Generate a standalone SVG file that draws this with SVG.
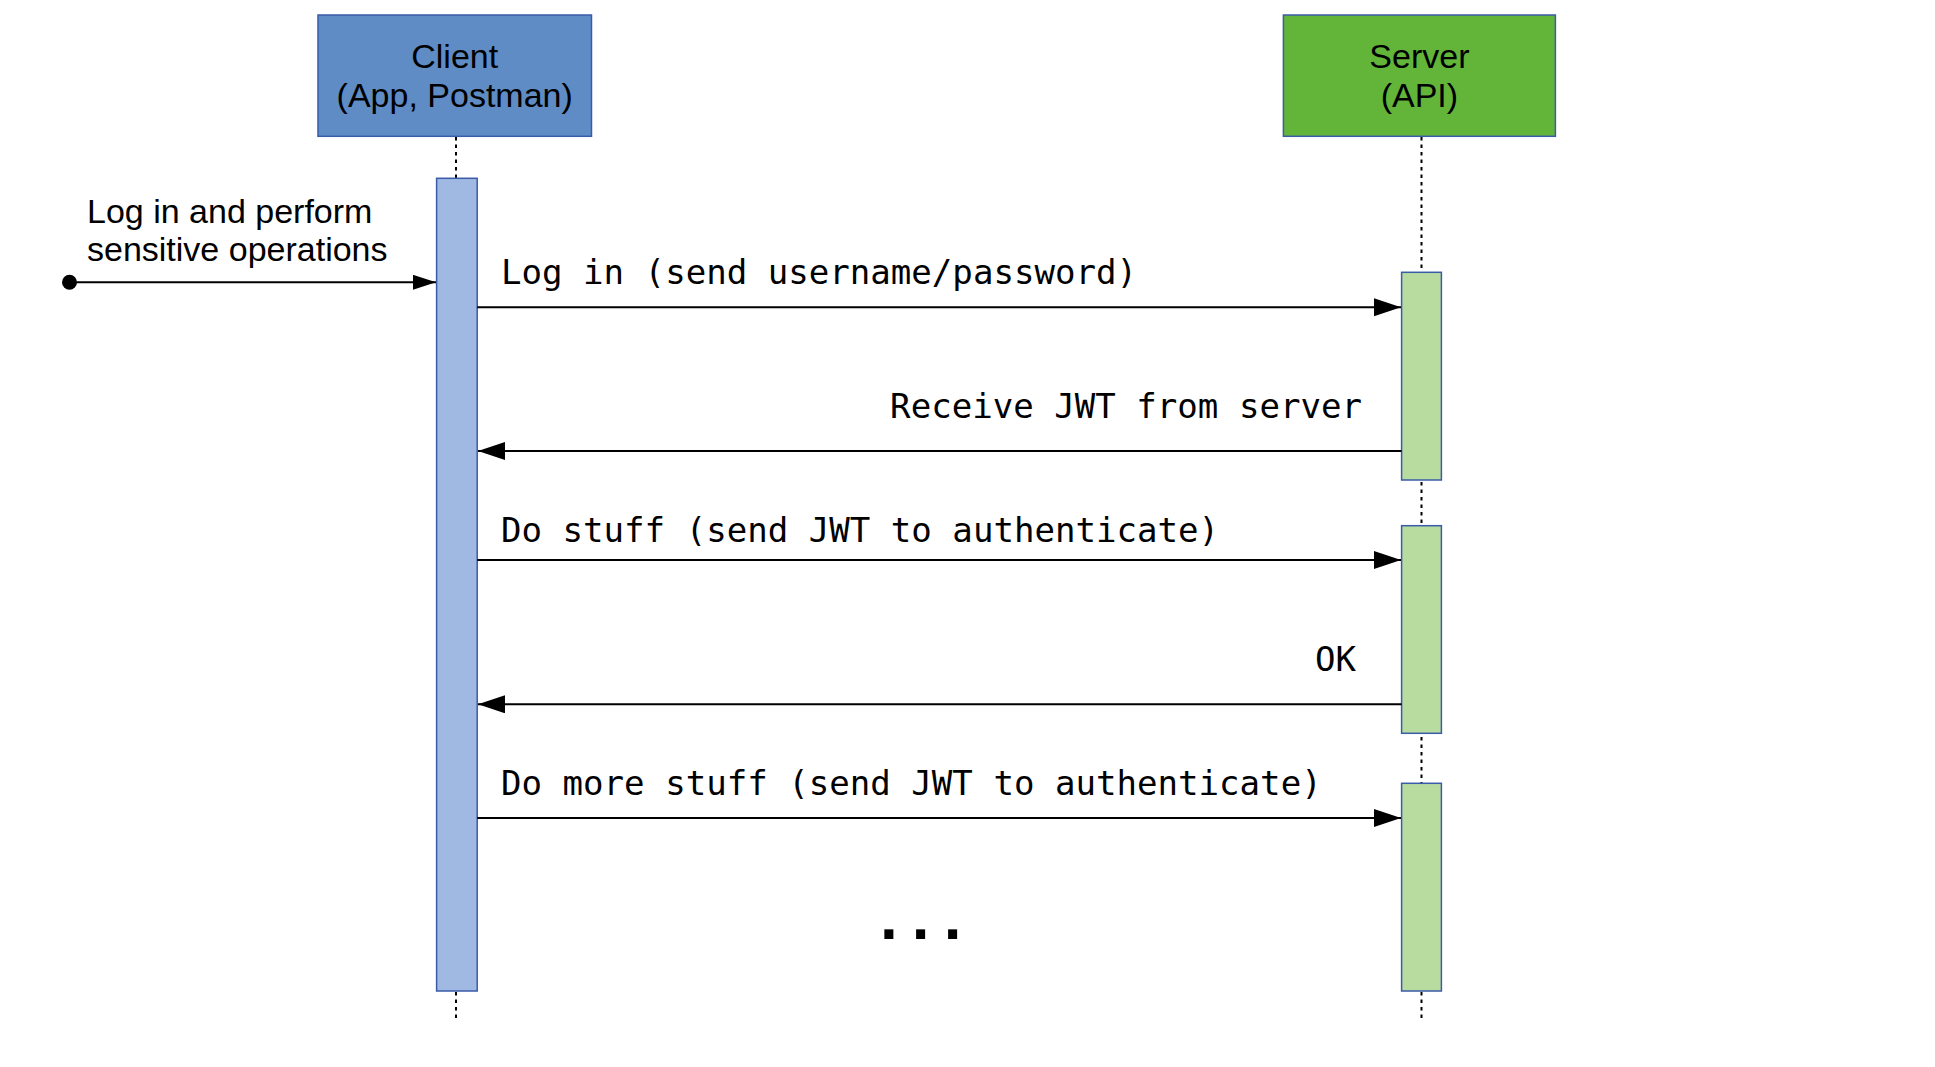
<svg xmlns="http://www.w3.org/2000/svg" width="1935" height="1067" viewBox="0 0 1935 1067">
<style>
.sans{font-family:"Liberation Sans",Arial,sans-serif;font-size:34px;fill:#000}
.mono{font-family:"DejaVu Sans Mono","Liberation Mono",monospace;font-size:34.1px;fill:#000}
.life{stroke:#000;stroke-width:2;stroke-dasharray:3.5 4;fill:none}
.msg{stroke:#000;stroke-width:2;fill:none}
.act-c{fill:#a0b9e2;stroke:#3a5ba8;stroke-width:1.5}
.act-s{fill:#b8dca0;stroke:#3a5ba8;stroke-width:1.5}
</style>
<defs>
<marker id="ah" markerUnits="userSpaceOnUse" markerWidth="28" markerHeight="19" refX="27" refY="9" orient="auto">
<path d="M0,0 L27,9 L0,18 z" fill="#000"/>
</marker>
<marker id="ahs" markerUnits="userSpaceOnUse" markerWidth="24" markerHeight="16" refX="23" refY="7.5" orient="auto">
<path d="M0,0 L23,7.5 L0,15 z" fill="#000"/>
</marker>
</defs>
<rect width="1935" height="1067" fill="#fff"/>
<g id="lifelines">
<line class="life" x1="456" y1="137" x2="456" y2="1020"/>
<line class="life" x1="1421.5" y1="137" x2="1421.5" y2="1020"/>
</g>
<g id="client">
<rect x="318" y="15" width="273.5" height="121.3" fill="#5f8cc5" stroke="#3a5ba8" stroke-width="1.5"/>
<text class="sans" x="454.7" y="68.3" text-anchor="middle">Client</text>
<text class="sans" x="454.7" y="106.5" text-anchor="middle">(App, Postman)</text>
</g>
<g id="server">
<rect x="1283.4" y="15" width="272" height="121.3" fill="#63b539" stroke="#3a5ba8" stroke-width="1.5"/>
<text class="sans" x="1419.4" y="68.3" text-anchor="middle">Server</text>
<text class="sans" x="1419.4" y="106.5" text-anchor="middle">(API)</text>
</g>
<g id="client-activation">
<rect class="act-c" x="436.6" y="178.3" width="40.6" height="812.7"/>
</g>
<g id="server-activation-1">
<rect class="act-s" x="1401.6" y="272.3" width="39.8" height="207.7"/>
</g>
<g id="server-activation-2">
<rect class="act-s" x="1401.6" y="525.7" width="39.8" height="207.6"/>
</g>
<g id="server-activation-3">
<rect class="act-s" x="1401.6" y="783.3" width="39.8" height="207.7"/>
</g>
<g id="start">
<circle cx="69.5" cy="282.3" r="7.5" fill="#000"/>
<text class="sans" x="87" y="222.7" font-size="33.7">Log in and perform</text>
<text class="sans" x="87" y="261" font-size="33.7">sensitive operations</text>
</g>
<g id="connectors">
<line class="msg" x1="69.5" y1="282.3" x2="436" y2="282.3" stroke-width="1.6" marker-end="url(#ahs)"/>
<line class="msg" x1="477.2" y1="307.3" x2="1401" y2="307.3" marker-end="url(#ah)"/>
<line class="msg" x1="1401.6" y1="451" x2="478" y2="451" marker-end="url(#ah)"/>
<line class="msg" x1="477.2" y1="560" x2="1401" y2="560" marker-end="url(#ah)"/>
<line class="msg" x1="1401.6" y1="704.3" x2="478" y2="704.3" marker-end="url(#ah)"/>
<line class="msg" x1="477.2" y1="818" x2="1401" y2="818" marker-end="url(#ah)"/>
</g>
<g id="labels">
<text class="mono" x="501" y="284">Log in (send username/password)</text>
<text class="mono" x="1362" y="418.3" text-anchor="end">Receive JWT from server</text>
<text class="mono" x="501" y="541.7">Do stuff (send JWT to authenticate)</text>
<text class="mono" x="1356" y="671" text-anchor="end">OK</text>
<text class="mono" x="501" y="795">Do more stuff (send JWT to authenticate)</text>
<text x="880 911.8 943.8" y="938.5" font-family="'Liberation Sans',Arial,sans-serif" font-size="64" font-weight="bold" fill="#000">...</text>
</g>
</svg>
